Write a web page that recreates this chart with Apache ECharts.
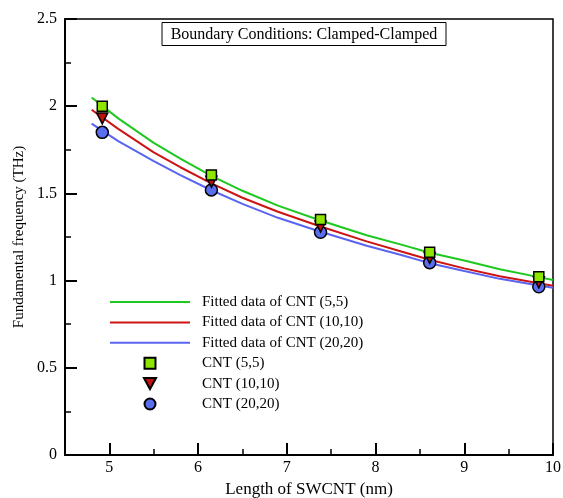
<!DOCTYPE html>
<html>
<head>
    <meta charset="utf-8">
    <title>SWCNT fundamental frequency</title>
    <style>
        html, body { margin: 0; padding: 0; background: #fff; }
    </style>
</head>
<body>
<div id="main" style="width: 563px;height:498px;"></div>
<script src="https://cdn.jsdelivr.net/npm/echarts@6/dist/echarts.min.js"></script>
<script type="text/javascript">
    // measured points (length in nm, frequency in THz)
    var lengths = [4.92, 6.15, 7.38, 8.61, 9.84];
    var cnt55 = [2.00, 1.606, 1.351, 1.162, 1.022];
    var cnt1010 = [1.93, 1.567, 1.31, 1.13, 0.99];
    var cnt2020 = [1.85, 1.52, 1.277, 1.103, 0.965];

    // fitted curves
    var fitX = [4.8, 5.1, 5.5, 5.8, 6.15, 6.5, 6.9, 7.38, 7.9, 8.3, 8.61, 9.0, 9.4, 9.84, 10];
    var fit55 = [2.05, 1.93, 1.79, 1.70, 1.60, 1.515, 1.43, 1.345, 1.26, 1.205, 1.16, 1.115, 1.065, 1.02, 1.003];
    var fit1010 = [1.98, 1.87, 1.735, 1.65, 1.557, 1.475, 1.395, 1.31, 1.225, 1.165, 1.12, 1.07, 1.025, 0.985, 0.97];
    var fit2020 = [1.90, 1.80, 1.685, 1.605, 1.518, 1.44, 1.36, 1.28, 1.20, 1.145, 1.10, 1.055, 1.01, 0.972, 0.959];

    // tick values
    var xMajor = [5, 6, 7, 8, 9, 10];
    var xMinor = [5.5, 6.5, 7.5, 8.5, 9.5];
    var yMajor = [0, 0.5, 1, 1.5, 2, 2.5];
    var yMinor = [0.25, 0.75, 1.25, 1.75, 2.25];

    function pairs(xs, ys) {
        return xs.map(function (x, i) { return [x, ys[i]]; });
    }

    var serif = 'Liberation Serif';
    var myChart = echarts.init(document.getElementById('main'));

    var lineSeries = function (name, data, color) {
        return {
            name: name, type: 'line', data: pairs(fitX, data),
            smooth: false, symbol: 'none', z: 2,
            lineStyle: {color: color, width: 2},
            itemStyle: {color: color}
        };
    };
    var pointSeries = function (name, data, symbol, size, color, rotate, z) {
        return {
            name: name, type: 'scatter', data: pairs(lengths, data),
            symbol: symbol, symbolSize: size, symbolRotate: rotate, z: z,
            itemStyle: {color: color, borderColor: '#000', borderWidth: 1.5, opacity: 1}
        };
    };

    // legend icons
    var lineIcon = 'path://M0,0 L80,0 L80,2 L0,2 Z';
    var squareIcon = 'path://M0,0 L10,0 L10,10 L0,10 Z';
    var triangleIcon = 'path://M0,0 L11,0 L5.5,10 Z';

    myChart.setOption({
        animation: false,
        grid: {left: 65, right: 10, top: 19, bottom: 43, outerBoundsMode: 'none',
            show: true, borderColor: '#000', borderWidth: 1.5},
        graphic: [
            {type: 'rect', shape: {x: 162, y: 22.5, width: 284, height: 23},
                style: {fill: '#fff', stroke: '#000', lineWidth: 1}},
            {type: 'text', x: 304, y: 34.5,
                style: {text: 'Boundary Conditions: Clamped-Clamped', font: '16px "Liberation Serif"',
                    fill: '#000', align: 'center', verticalAlign: 'middle'}}
        ],
        legend: {
            orient: 'vertical', left: 105, top: 289,
            itemWidth: 80, itemHeight: 11, itemGap: 4.4,
            symbolKeepAspect: true, symbolRotate: 0,
            textStyle: {fontFamily: serif, fontSize: 15, color: '#000', lineHeight: 16, padding: [0, 0, 0, 7]},
            data: [
                {name: 'Fitted data of CNT (5,5)', icon: lineIcon},
                {name: 'Fitted data of CNT (10,10)', icon: lineIcon},
                {name: 'Fitted data of CNT (20,20)', icon: lineIcon},
                {name: 'CNT (5,5)', icon: squareIcon},
                {name: 'CNT (10,10)', icon: triangleIcon},
                {name: 'CNT (20,20)', icon: 'circle'}
            ]
        },
        xAxis: [{
            type: 'value', min: 4.5, max: 10,
            name: 'Length of SWCNT (nm)', nameLocation: 'middle', nameGap: 24,
            nameTextStyle: {fontFamily: serif, fontSize: 17, color: '#000'},
            axisLine: {lineStyle: {color: '#000', width: 2}},
            axisTick: {inside: true, length: 12, customValues: xMajor, lineStyle: {color: '#000', width: 2}},
            axisLabel: {customValues: xMajor, fontFamily: serif, fontSize: 16, color: '#000', margin: 5},
            splitLine: {show: false}
        }, {
            type: 'value', min: 4.5, max: 10, position: 'bottom',
            axisLine: {show: false},
            axisTick: {inside: true, length: 6, customValues: xMinor, lineStyle: {color: '#000', width: 1.5}},
            axisLabel: {show: false},
            splitLine: {show: false}
        }],
        yAxis: [{
            type: 'value', min: 0, max: 2.5,
            name: 'Fundamental frequency (THz)', nameLocation: 'middle', nameGap: 38,
            nameTextStyle: {fontFamily: serif, fontSize: 15, color: '#000'},
            axisLine: {lineStyle: {color: '#000', width: 2}},
            axisTick: {inside: true, length: 12, customValues: yMajor, lineStyle: {color: '#000', width: 2}},
            axisLabel: {customValues: yMajor, fontFamily: serif, fontSize: 16, color: '#000', margin: 8},
            splitLine: {show: false}
        }, {
            type: 'value', min: 0, max: 2.5, position: 'left',
            axisLine: {show: false},
            axisTick: {inside: true, length: 6, customValues: yMinor, lineStyle: {color: '#000', width: 1.5}},
            axisLabel: {show: false},
            splitLine: {show: false}
        }],
        series: [
            lineSeries('Fitted data of CNT (5,5)', fit55, '#1ec81e'),
            lineSeries('Fitted data of CNT (10,10)', fit1010, '#cc1414'),
            lineSeries('Fitted data of CNT (20,20)', fit2020, '#5a64f0'),
            pointSeries('CNT (5,5)', cnt55, 'rect', 10, '#8ce600', 0, 5),
            pointSeries('CNT (10,10)', cnt1010, 'triangle', 11, '#c01010', 180, 4),
            pointSeries('CNT (20,20)', cnt2020, 'circle', 12, '#5a6ef0', 0, 3)
        ]
    });
</script>
</body>
</html>
